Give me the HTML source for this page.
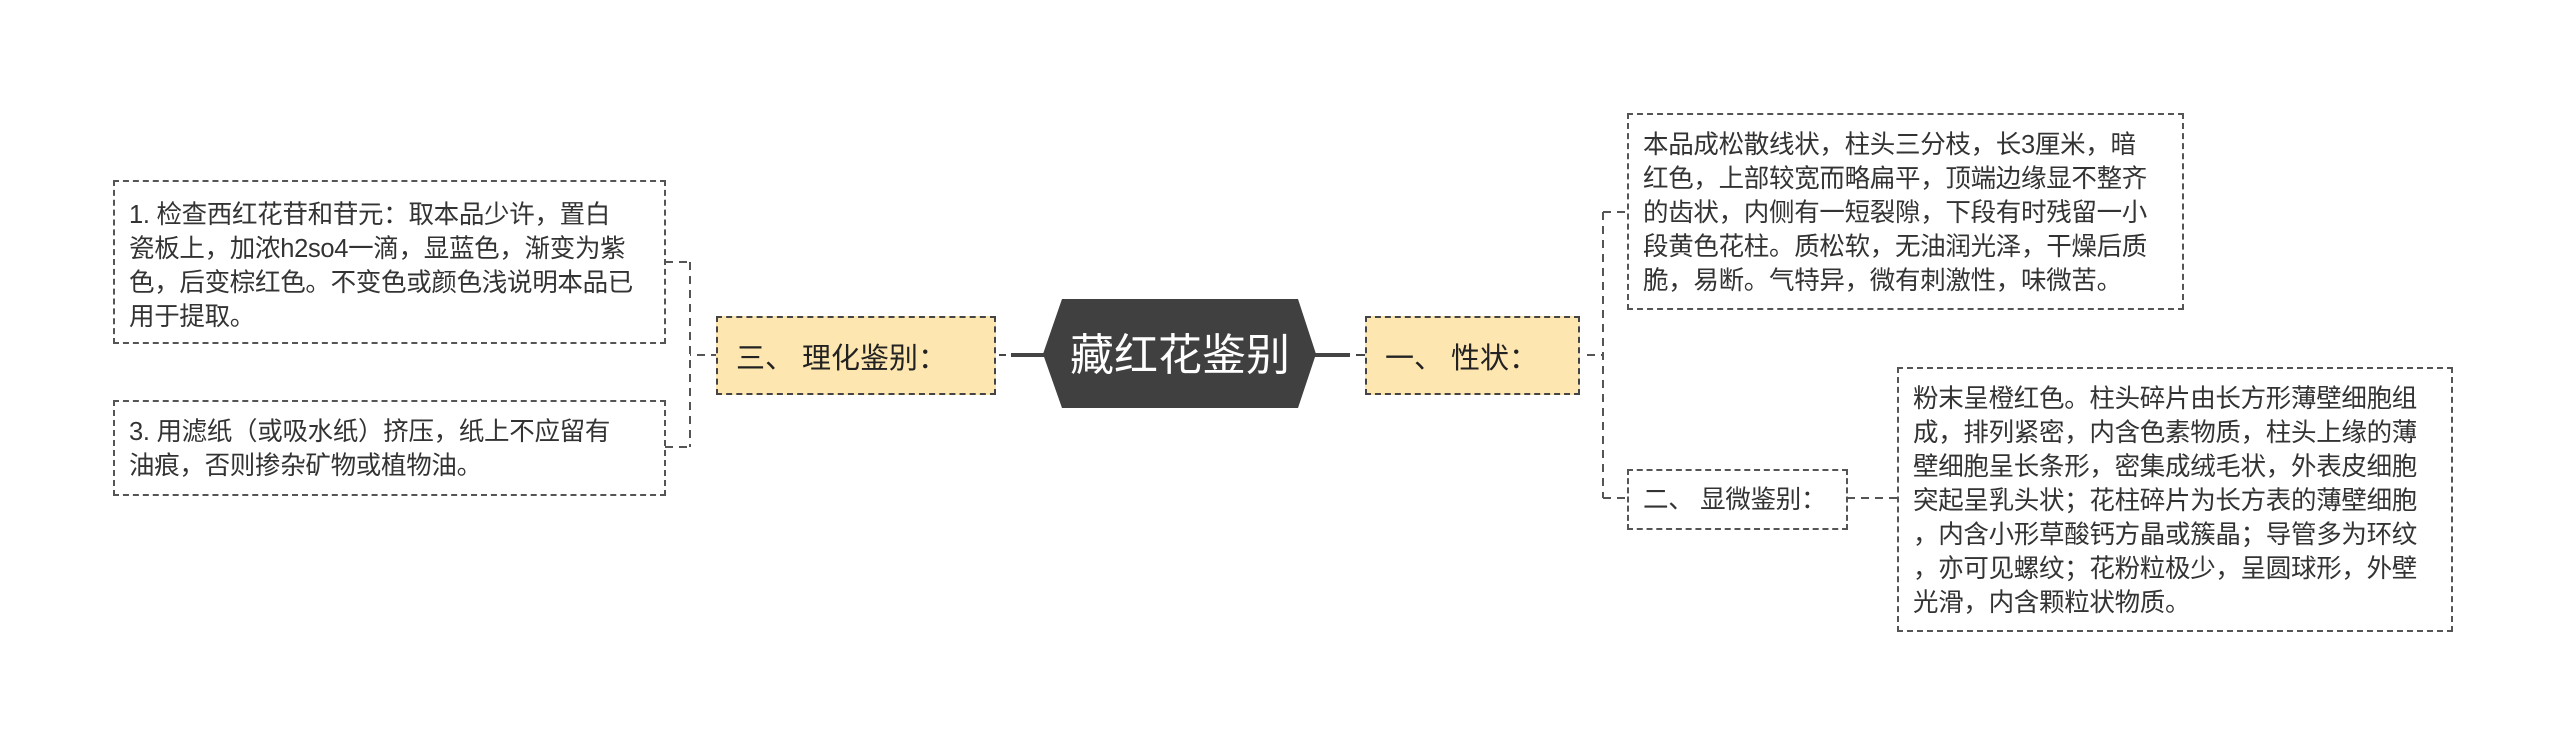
<!DOCTYPE html>
<html><head><meta charset="utf-8"><style>
body{margin:0;width:2560px;height:741px;background:#fff;position:relative;overflow:hidden;font-family:"Liberation Sans","Noto Sans CJK SC",sans-serif;color:#333}
.b{position:absolute;box-sizing:border-box;border:2px dashed #555;font-size:25.5px;line-height:34px;padding:0 14px;white-space:nowrap;letter-spacing:-0.3px}
.n{position:absolute;box-sizing:border-box;border:2px dashed #444;background:#fde6b0;font-size:29px;display:flex;align-items:center;padding-left:18px;color:#222}
</style></head><body>
<svg width="2560" height="741" style="position:absolute;left:0;top:0">
<g stroke="#555" stroke-width="2" stroke-dasharray="8,6" fill="none">
<path d="M719 355 H690 M690 262 V447 M665 262 H690 M665 447 H690"/>
<path d="M1587 355 H1603 M1603 212 V498 M1603 212 H1627 M1603 498 H1627"/>
<path d="M1847 498 H1897"/>
</g>
<g stroke="#444" stroke-width="4">
<path d="M1011 355 H1044 M1315 355 H1350"/>
</g>
<g stroke="#444" stroke-width="2"><path d="M999 355 H1006 M1356 355 H1366"/></g>
<polygon points="1062,299 1298,299 1316,354 1298,408 1062,408 1043,354" fill="#404040"/>
<text x="1180" y="370" text-anchor="middle" fill="#fff" font-size="44" font-family="Liberation Sans, Noto Sans CJK SC, sans-serif">藏红花鉴别</text>
</svg>
<div class="b" style="left:113px;top:180px;width:553px;height:164px;padding-top:16px">1. 检查西红花苷和苷元：取本品少许，置白<br>瓷板上，加浓h2so4一滴，显蓝色，渐变为紫<br>色，后变棕红色。不变色或颜色浅说明本品已<br>用于提取。</div>
<div class="b" style="left:113px;top:400px;width:553px;height:96px;padding-top:13px">3. 用滤纸（或吸水纸）挤压，纸上不应留有<br>油痕，否则掺杂矿物或植物油。</div>
<div class="n" style="left:716px;top:316px;width:280px;height:79px">三、 理化鉴别：</div>
<div class="n" style="left:1365px;top:316px;width:215px;height:79px">一、 性状：</div>
<div class="b" style="left:1627px;top:113px;width:557px;height:197px;padding-top:13px">本品成松散线状，柱头三分枝，长3厘米，暗<br>红色，上部较宽而略扁平，顶端边缘显不整齐<br>的齿状，内侧有一短裂隙，下段有时残留一小<br>段黄色花柱。质松软，无油润光泽，干燥后质<br>脆，易断。气特异，微有刺激性，味微苦。</div>
<div class="b" style="left:1627px;top:469px;width:221px;height:61px;display:flex;align-items:center">二、 显微鉴别：</div>
<div class="b" style="left:1897px;top:367px;width:556px;height:265px;padding-top:13px">粉末呈橙红色。柱头碎片由长方形薄壁细胞组<br>成，排列紧密，内含色素物质，柱头上缘的薄<br>壁细胞呈长条形，密集成绒毛状，外表皮细胞<br>突起呈乳头状；花柱碎片为长方表的薄壁细胞<br>，内含小形草酸钙方晶或簇晶；导管多为环纹<br>，亦可见螺纹；花粉粒极少，呈圆球形，外壁<br>光滑，内含颗粒状物质。</div>
</body></html>
